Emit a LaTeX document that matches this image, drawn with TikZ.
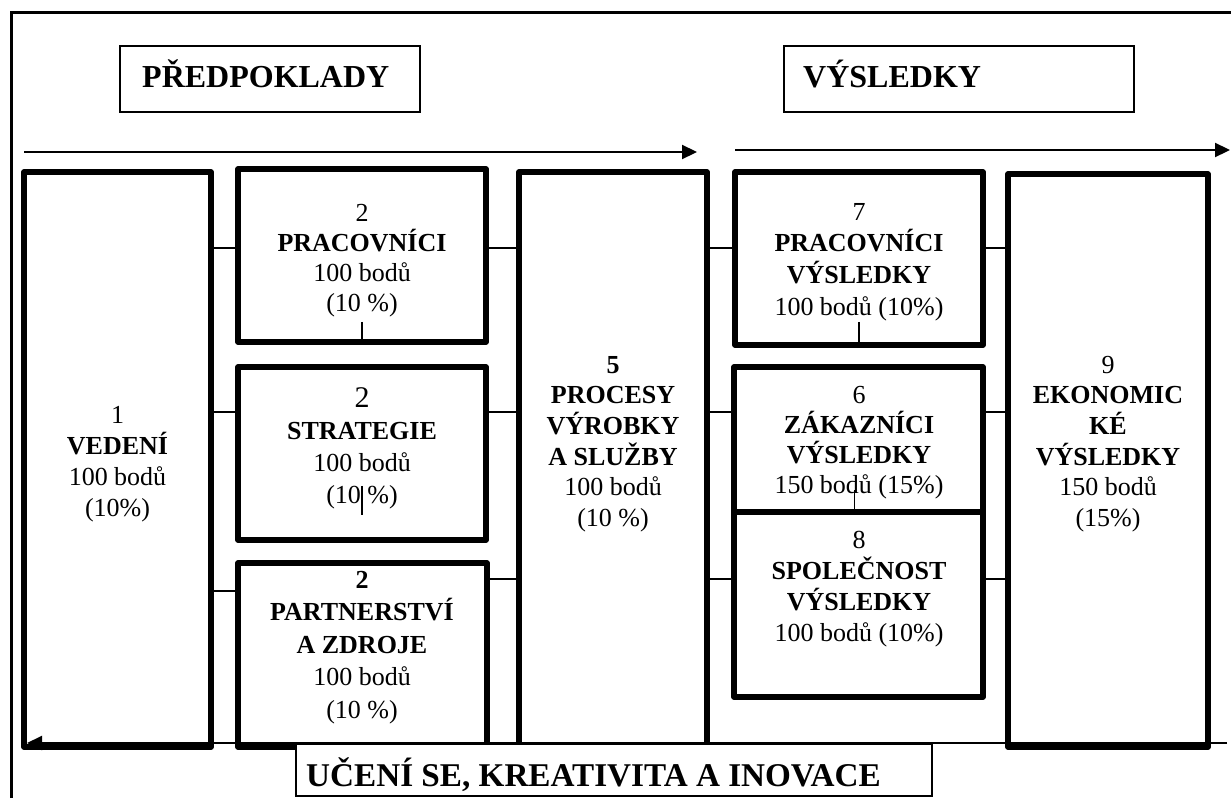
\documentclass[tikz,border=0pt]{standalone}
\usepackage{fontspec}
\setmainfont{Liberation Serif}
\usetikzlibrary{arrows.meta}
\begin{document}
\begin{tikzpicture}[x=1pt,y=-1pt,
  box/.style={draw, line width=5.5pt, line join=round, fill=white, inner sep=0pt},
  titlebox/.style={draw, line width=2pt, fill=white, inner sep=0pt},
  conn/.style={line width=1.8pt},
  flow/.style={line width=2.2pt, -{Triangle[length=15pt,width=14pt]}},
  txt/.style={align=center, inner sep=0pt},
  ttl/.style={inner sep=0pt, anchor=base west, font=\bfseries\fontsize{32}{38}\selectfont}]
\useasboundingbox (0,0) rectangle (1231,798);
% outer frame
\draw[line width=3pt] (11,798) -- (11,12) -- (1231,12);
% title boxes
\node[titlebox, minimum width=300pt, minimum height=66pt] (tp) at (270,79) {};
\node[ttl] (tpt) at (142,87) {PŘEDPOKLADY};
\node[titlebox, minimum width=350pt, minimum height=66pt] (tv) at (959,79) {};
\node[ttl] (tvt) at (803,87) {VÝSLEDKY};
% arrows
\coordinate (a0) at (24,152); \coordinate (a1) at (697,152);
\coordinate (c0) at (735,150); \coordinate (c1) at (1230,150);
\draw[flow] (a0) -- (a1);
\draw[flow] (c0) -- (c1);
% boxes
\node[box, minimum width=187pt, minimum height=575pt] (b1) at (117.5,459.5) {};
\node[box, minimum width=248pt, minimum height=173pt] (b2a) at (362,255.5) {};
\node[box, minimum width=248pt, minimum height=173pt] (b2b) at (362,453.5) {};
\node[box, minimum width=249pt, minimum height=184pt] (b2c) at (362.5,655) {};
\node[box, minimum width=188pt, minimum height=573pt] (b5) at (613,458.5) {};
\node[box, minimum width=248pt, minimum height=173pt] (b7) at (859,258.5) {};
\node[box, minimum width=249pt, minimum height=145pt] (b6) at (858.5,439.5) {};
\node[box, minimum width=249pt, minimum height=185pt] (b8) at (858.5,604.5) {};
\node[box, minimum width=200pt, minimum height=573pt] (b9) at (1108,460.5) {};
% connector rows
\coordinate (rA) at (0,248);
\coordinate (rB) at (0,412);
\coordinate (rC) at (0,591);
\coordinate (rD) at (0,579);
\draw[conn] (b1.east |- rA) -- (b2a.west |- rA);
\draw[conn] (b1.east |- rB) -- (b2b.west |- rB);
\draw[conn] (b1.east |- rC) -- (b2c.west |- rC);
\draw[conn] (b2a.east |- rA) -- (b5.west |- rA);
\draw[conn] (b2b.east |- rB) -- (b5.west |- rB);
\draw[conn] (b2c.east |- rD) -- (b5.west |- rD);
\draw[conn] (b5.east |- rA) -- (b7.west |- rA);
\draw[conn] (b5.east |- rB) -- (b6.west |- rB);
\draw[conn] (b5.east |- rD) -- (b8.west |- rD);
\draw[conn] (b7.east |- rA) -- (b9.west |- rA);
\draw[conn] (b6.east |- rB) -- (b9.west |- rB);
\draw[conn] (b8.east |- rD) -- (b9.west |- rD);
% small vertical ticks
\draw[conn] (b2a.south) ++(0,-23) -- ++(0,23);
\draw[conn] (b2b.south) ++(0,-57) -- ++(0,29);
\draw[conn] (b7.south) ++(0,-26) -- ++(0,26);
\draw[conn] ([xshift=-4pt]b8.north) ++(0,-19) -- ++(0,23);
% bottom feedback line
\coordinate (d0) at (1227,743); \coordinate (d1) at (27,743);
\draw[flow] (d0) -- (d1);
% bottom box
\node[titlebox, line width=1.8pt, minimum width=636pt, minimum height=52pt] (tu) at (614,770) {};
\node[ttl, font=\bfseries\fontsize{33.2}{38}\selectfont] (tut) at (306,786) {UČENÍ SE, KREATIVITA A INOVACE};
% texts
\node[txt, font=\fontsize{26}{31}\selectfont] (t1) at (117.5,464) {1\\\textbf{VEDENÍ}\\100 bodů\\(10\%)};
\node[txt, font=\fontsize{26}{30}\selectfont] (t2a) at (362,260.5) {2\\\textbf{PRACOVNÍCI}\\100 bodů\\(10 \%)};
\node[txt, font=\fontsize{26}{32}\selectfont] (t2b) at (362,448) {{\fontsize{30}{32}\selectfont 2}\\\textbf{STRATEGIE}\\100 bodů\\(10 \%)};
\node[txt, font=\fontsize{26}{32.5}\selectfont] (t2c) at (362,647.5) {\textbf{2}\\\textbf{PARTNERSTVÍ}\\\textbf{A ZDROJE}\\100 bodů\\(10 \%)};
\node[txt, font=\fontsize{26}{30.6}\selectfont] (t5) at (613,444) {\textbf{5}\\\textbf{PROCESY}\\\textbf{VÝROBKY}\\\textbf{A SLUŽBY}\\100 bodů\\(10 \%)};
\node[txt, font=\fontsize{26}{31.7}\selectfont] (t7) at (859,262) {7\\\textbf{PRACOVNÍCI}\\\textbf{VÝSLEDKY}\\100 bodů (10\%)};
\node[txt, font=\fontsize{26}{30}\selectfont] (t6) at (859,442.5) {6\\\textbf{ZÁKAZNÍCI}\\\textbf{VÝSLEDKY}\\150 bodů (15\%)};
\node[txt, font=\fontsize{26}{31}\selectfont] (t8) at (859,589) {8\\\textbf{SPOLEČNOST}\\\textbf{VÝSLEDKY}\\100 bodů (10\%)};
\node[txt, font=\fontsize{26}{30.6}\selectfont] (t9) at (1108,444) {9\\\textbf{EKONOMIC}\\\textbf{KÉ}\\\textbf{VÝSLEDKY}\\150 bodů\\(15\%)};
\end{tikzpicture}
\end{document}
